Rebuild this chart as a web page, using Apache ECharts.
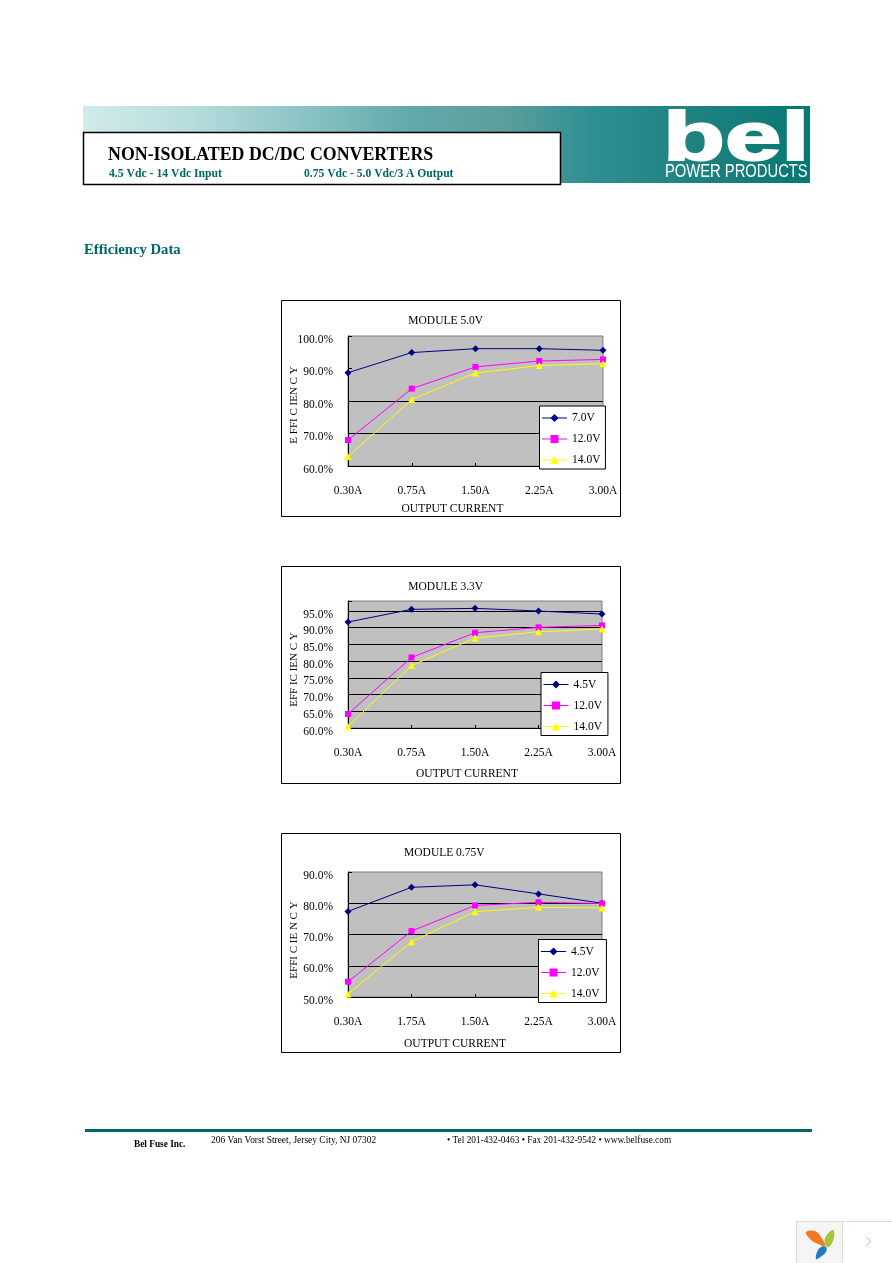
<!DOCTYPE html>
<html><head><meta charset="utf-8">
<style>html,body{margin:0;padding:0;background:#fff}#c{width:892px;height:1263px}</style>
<script src="https://cdn.jsdelivr.net/npm/echarts@6/dist/echarts.min.js"></script>
</head><body><div id="c"></div>
<script>
const currents1 = ['0.30A','0.75A','1.50A','2.25A','3.00A'];
const currents2 = ['0.30A','0.75A','1.50A','2.25A','3.00A'];
const currents3 = ['0.30A','1.75A','1.50A','2.25A','3.00A'];

const names1 = ['7.0V','12.0V','14.0V'];
const names2 = ['4.5V','12.0V','14.0V'];
const names3 = ['4.5V','12.0V','14.0V'];

const m50_low  = [88.7,94.9,96.1,96.1,95.6];
const m50_mid  = [68.0,83.8,90.5,92.3,92.8];
const m50_high = [62.9,80.5,88.6,90.9,91.5];

const m33_low  = [91.7,95.5,95.8,95.0,94.1];
const m33_mid  = [64.2,81.1,88.5,90.1,90.7];
const m33_high = [60.5,78.7,86.9,88.8,89.6];

const m075_low  = [77.4,85.1,85.9,83.0,80.0];
const m075_mid  = [54.9,71.1,79.3,80.3,79.9];
const m075_high = [51.0,67.7,77.3,78.7,78.5];

const SERIF = '"Liberation Serif","Times New Roman",serif';
const TEAL = '#006666';

const panels = [
 {title:'MODULE 5.0V', tx:445.7, ty:321, frame:[281.5,300.5,339,216], plot:[348,336,255,130], min:60,max:100,interval:10,
  grid:['transparent','#000','#000','transparent','transparent'], cats:currents1, names:names1, vals:[m50_low,m50_mid,m50_high],
  yname:'E FFI C IEN C Y', ypad:[0,8,0,0], ygap:48, xname:'OUTPUT CURRENT', xpad:[0,46,0,0], xgap:36.5, legend:[539.5,406,5]},
 {title:'MODULE 3.3V', tx:445.7, ty:587, frame:[281.5,566.5,339,217], plot:[348,601,254,127], min:60,max:98,interval:5,
  grid:['transparent','#000','#000','#000','#000','#000','#000','#000','transparent'], cats:currents2, names:names2, vals:[m33_low,m33_mid,m33_high],
  yname:'EFF IC IEN C Y', ypad:[0,10,0,0], ygap:48, xname:'OUTPUT CURRENT', xpad:[0,16,0,0], xgap:40, legend:[541,672.5,6]},
 {title:'MODULE 0.75V', tx:444.3, ty:853, frame:[281.5,833.5,339,219], plot:[348,872,254,125], min:50,max:90,interval:10,
  grid:['transparent','#000','#000','#000','transparent'], cats:currents3, names:names3, vals:[m075_low,m075_mid,m075_high],
  yname:'EFFI C IE N C Y', ypad:[0,11,0,0], ygap:48, xname:'OUTPUT CURRENT', xpad:[0,40,0,0], xgap:41, legend:[538.5,939.5,7]}
];

const styles = [
 {color:'#000080',symbol:'diamond',symbolSize:7},
 {color:'#ff00ff',symbol:'rect',symbolSize:6},
 {color:'#ffff00',symbol:'triangle',symbolSize:7}
];

const grids=[],xAxes=[],yAxes=[],series=[],legends=[],titles=[],frames=[];
panels.forEach((p,i)=>{
  grids.push({left:p.plot[0],top:p.plot[1],width:p.plot[2],height:p.plot[3],show:true,backgroundColor:'#c0c0c0',borderColor:'#808080',borderWidth:1,containLabel:false});
  xAxes.push({type:'category',gridIndex:i,data:p.cats,boundaryGap:false,
    axisLine:{lineStyle:{color:'#000',width:1}},axisTick:{inside:true,length:3,alignWithLabel:true,lineStyle:{color:'#000'}},
    axisLabel:{color:'#000',fontFamily:SERIF,fontSize:11.5,margin:19,showMinLabel:true,showMaxLabel:true,interval:0},
    name:p.xname,nameLocation:'middle',nameGap:p.xgap,nameTextStyle:{color:'#000',fontFamily:SERIF,fontSize:11.5,padding:p.xpad}});
  yAxes.push({type:'value',gridIndex:i,min:p.min,max:p.max,interval:p.interval,
    axisLine:{show:true,lineStyle:{color:'#000',width:1}},axisTick:{show:true,inside:true,length:4,lineStyle:{color:'#000'}},
    axisLabel:{color:'#000',fontFamily:SERIF,fontSize:11.5,margin:15,verticalAlign:'top',lineHeight:7,
      formatter:v=>(v-p.min)%p.interval===0?v.toFixed(1)+'%':''},
    splitLine:{show:true,lineStyle:{color:p.grid,width:1}},
    name:p.yname,nameLocation:'middle',nameGap:p.ygap,nameRotate:90,nameMoveOverlap:false,nameTextStyle:{color:'#000',fontFamily:SERIF,fontSize:11,padding:p.ypad}});
  p.names.forEach((n,k)=>{
    series.push({type:'line',name:n,xAxisIndex:i,yAxisIndex:i,data:p.vals[k],clip:false,
      color:styles[k].color,symbol:styles[k].symbol,symbolSize:styles[k].symbolSize,showSymbol:true,
      lineStyle:{color:styles[k].color,width:1},itemStyle:{color:styles[k].color},z:3+k,animation:false});
  });
  legends.push({show:true,orient:'vertical',left:p.legend[0],top:p.legend[1],data:p.names,selectedMode:false,
    backgroundColor:'#fff',borderColor:'#000',borderWidth:1,padding:[6,p.legend[2],3,2],itemGap:9,itemWidth:25,itemHeight:10,
    lineStyle:{width:1},textStyle:{color:'#000',fontFamily:SERIF,fontSize:11.5},z:10});
  titles.push({text:p.title,left:p.tx,top:p.ty,textAlign:'center',textVerticalAlign:'middle',
    textStyle:{color:'#000',fontFamily:SERIF,fontSize:11.5,fontWeight:'normal'},padding:0});
  frames.push({type:'rect',shape:{x:p.frame[0],y:p.frame[1],width:p.frame[2],height:p.frame[3]},style:{fill:'transparent',stroke:'#000',lineWidth:1},silent:true,z:1});
});

const txt=(t,x,y,font,fill,extra)=>Object.assign({type:'text',x:x,y:y,style:{text:t,font:font,fill:fill,textVerticalAlign:'middle',textBaseline:'middle'},silent:true,z:20},extra||{});

const deco=[
 {type:'rect',shape:{x:83,y:106,width:727,height:77},silent:true,z:2,style:{fill:new echarts.graphic.LinearGradient(0,0,1,0,[
   {offset:0,color:'#d2eaea'},{offset:0.15,color:'#b6dcdc'},{offset:0.3,color:'#8cc4c5'},{offset:0.45,color:'#62a9aa'},
   {offset:0.58,color:'#5a9f9c'},{offset:0.7,color:'#2f8e92'},{offset:0.85,color:'#1f817f'},{offset:1,color:'#067873'}])}},
 {type:'rect',shape:{x:83.5,y:132.5,width:477,height:52},style:{fill:'#fff',stroke:'#000',lineWidth:1.5},silent:true,z:3},
 txt('NON-ISOLATED DC/DC CONVERTERS',108,155.5,'bold 17.85px '+SERIF,'#000'),
 txt('4.5 Vdc - 14 Vdc Input',109,173.5,'bold 11.7px '+SERIF,TEAL),
 txt('0.75 Vdc - 5.0 Vdc/3 A Output',304,173.5,'bold 11.6px '+SERIF,TEAL),
 txt('Efficiency Data',84,250.5,'bold 14.7px '+SERIF,TEAL),
 {type:'text',x:663,y:141,scaleX:1.49,scaleY:1,silent:true,z:20,style:{text:'bel',font:'bold 68px "Liberation Sans",Arial,sans-serif',fill:'#fff',stroke:'#fff',lineWidth:2,textVerticalAlign:'middle',textBaseline:'middle'}},
 txt('POWER PRODUCTS',665,172.5,'18px "Liberation Sans",Arial,sans-serif','#fff',{scaleX:0.82}),
 {type:'rect',shape:{x:85,y:1129,width:727,height:3},style:{fill:TEAL},silent:true,z:2},
 txt('Bel Fuse Inc.',134,1144.5,'bold 9.3px '+SERIF,'#000'),
 txt('206 Van Vorst Street, Jersey City, NJ 07302',211,1141,'9.45px '+SERIF,'#000'),
 txt('• Tel 201-432-0463 • Fax 201-432-9542 • www.belfuse.com',447,1140.5,'9.3px '+SERIF,'#000'),
 {type:'rect',shape:{x:796.5,y:1221.5,width:46,height:42},style:{fill:'#f5f5f5',stroke:'#dddddd',lineWidth:1},silent:true,z:2},
 {type:'rect',shape:{x:842.5,y:1221.5,width:50,height:42},style:{fill:'#fff',stroke:'#dddddd',lineWidth:1},silent:true,z:2},
 {type:'polygon',shape:{points:[[806,1232],[815,1231],[821,1237],[825,1246],[816,1243],[810,1239]],smooth:0.4},style:{fill:'#ee7a22'},silent:true,z:4},
 {type:'polygon',shape:{points:[[833,1230],[834,1238],[829,1247],[826,1246],[825,1238]],smooth:0.4},style:{fill:'#a2c83a'},silent:true,z:4},
 {type:'polygon',shape:{points:[[826,1247],[826,1252],[819,1258],[816,1259],[817,1252],[821,1247]],smooth:0.4},style:{fill:'#1f7fc4'},silent:true,z:4},
 {type:'polyline',shape:{points:[[866,1237],[871,1241.5],[866,1246]]},style:{stroke:'#bbbbbb',lineWidth:1,fill:'none'},silent:true,z:4}
];

const chart=echarts.init(document.getElementById('c'),null,{renderer:'canvas'});
chart.setOption({animation:false,backgroundColor:'#fff',title:titles,grid:grids,xAxis:xAxes,yAxis:yAxes,legend:legends,series:series,
  tooltip:{show:false},graphic:{elements:frames.concat(deco)}});
</script></body></html>
